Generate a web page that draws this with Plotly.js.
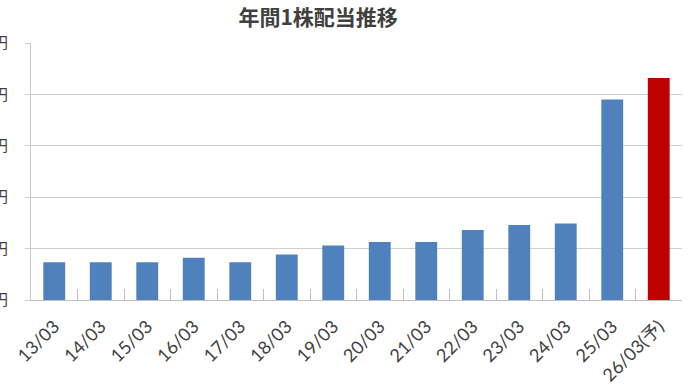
<!DOCTYPE html>
<html><head><meta charset="utf-8">
<script src="https://cdn.plot.ly/plotly-3.0.1.min.js"></script>
<style>html,body{margin:0;padding:0;background:#fff;}#chart{width:690px;height:388px;}</style>
</head><body><div id="chart"></div>
<script>
const categories = ["13/03","14/03","15/03","16/03","17/03","18/03","19/03","20/03","21/03","22/03","23/03","24/03","25/03","26/03(予)"];
const dividends = [36.7, 36.7, 36.7, 41, 36.7, 44.3, 53, 56.4, 56.4, 68, 73, 74.5, 195, 216];
const barColors = ["#4F81BD","#4F81BD","#4F81BD","#4F81BD","#4F81BD","#4F81BD","#4F81BD","#4F81BD","#4F81BD","#4F81BD","#4F81BD","#4F81BD","#4F81BD","#C00000"];
const yTickVals = [0, 50, 100, 150, 200, 250];
const yTickText = ["0円","50円","100円","150円","200円","250円"];

Plotly.newPlot("chart", [{
  type: "bar",
  x: categories,
  y: dividends,
  marker: {color: barColors, line: {width: 0}},
  hoverinfo: "none"
}], {
  width: 690, height: 388,
  margin: {l: 31, r: 8, t: 43, b: 88, pad: 0},
  paper_bgcolor: "#fff", plot_bgcolor: "#fff",
  bargap: 0.53,
  showlegend: false,
  title: {text: "<b>年間1株配当推移</b>", x: 0.461, xanchor: "center", y: 0.955, yanchor: "middle",
    font: {family: "Noto Sans CJK JP", size: 21, color: "#404040"}},
  xaxis: {
    type: "category",
    tickangle: -45,
    tickfont: {family: "Lato, Noto Sans CJK JP", size: 18, color: "#404040"},
    showline: true, linecolor: "#bfbfbf", linewidth: 1,
    ticks: "inside", tickson: "boundaries", ticklen: 11, tickcolor: "#bfbfbf", tickwidth: 1,
    ticklabelstandoff: 8,
    showgrid: false, automargin: false
  },
  yaxis: {
    range: [0, 250],
    tickvals: yTickVals, ticktext: yTickText,
    tickfont: {family: "Noto Sans CJK JP", size: 15, color: "#404040"},
    showline: true, linecolor: "#c8c8c8", linewidth: 1,
    ticks: "outside", ticklen: 5, tickcolor: "#d0d0d0",
    ticklabelstandoff: 14,
    showgrid: true, gridcolor: "#d0d0d0", gridwidth: 1,
    zeroline: false, automargin: false
  }
}, {staticPlot: true, displayModeBar: false});
</script></body></html>
